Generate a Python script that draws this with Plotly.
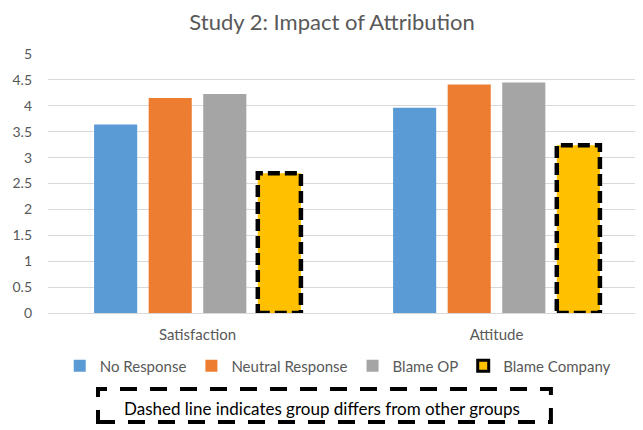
import plotly.graph_objects as go

categories = ["Satisfaction", "Attitude"]
series_names = ["No Response", "Neutral Response", "Blame OP", "Blame Company"]
no_response = [3.64, 3.96]
neutral_response = [4.15, 4.41]
blame_op = [4.23, 4.45]
blame_company = [2.70, 3.24]
y_ticks = [0, 0.5, 1, 1.5, 2, 2.5, 3, 3.5, 4, 4.5, 5]
y_tick_labels = ["0", "0.5", "1", "1.5", "2", "2.5", "3", "3.5", "4", "4.5", "5"]
note_text = "Dashed line indicates group differs from other groups"
title_text = "Study 2: Impact of Attribution"

colors = ["#5b9bd5", "#ed7d31", "#a5a5a5", "#ffc000"]
values = [no_response, neutral_response, blame_op, blame_company]

FONT = "Lato, 'Open Sans', sans-serif"
TXT = "#595959"
BARGAP = 0.27
GROUPGAP = 0.21

fig = go.Figure()
for name, vals, col in zip(series_names, values, colors):
    is_dashed = name == "Blame Company"
    fig.add_trace(go.Bar(
        x=categories, y=vals, name=name,
        marker=dict(color=col, line=dict(width=0)),
        showlegend=not is_dashed,
    ))

# legend-only entry for dashed group
fig.add_trace(go.Scatter(
    x=[None], y=[None], mode="markers", name="Blame Company",
    marker=dict(symbol="square", size=11, color=colors[3],
                line=dict(color="black", width=3)),
))

# dashed outline around the Blame Company bars (derived from data + bar layout)
n = len(series_names)
slot = (1 - BARGAP) / n
idx = series_names.index("Blame Company")
center = -(1 - BARGAP) / 2 + slot * (idx + 0.5)
half = slot * (1 - GROUPGAP) / 2
for cat, v in zip(categories, blame_company):
    fig.add_shape(type="rect", xref="x", yref="y",
                  x0=cat, x1=cat, x0shift=center - half, x1shift=center + half,
                  y0=0, y1=v, line=dict(color="black", width=4.5, dash="12px,5px"),
                  fillcolor="rgba(0,0,0,0)", layer="above")

# note box
fig.add_shape(type="rect", xref="paper", yref="paper",
              x0=0.0836, x1=0.841, y0=-0.421, y1=-0.293,
              line=dict(color="black", width=4, dash="17px,13px"))
fig.add_annotation(xref="paper", yref="paper", x=0.459, y=-0.367,
                   text=note_text, showarrow=False,
                   font=dict(family=FONT, size=17, color="black"),
                   xanchor="center", yanchor="middle")

fig.update_layout(
    width=643, height=430,
    margin=dict(l=40, r=5, t=46, b=125),
    paper_bgcolor="white", plot_bgcolor="white",
    barmode="group", bargap=BARGAP, bargroupgap=GROUPGAP,
    title=dict(text=title_text, x=0.504, xanchor="center", y=0.966, yanchor="middle",
               font=dict(family=FONT, size=22, color=TXT)),
    font=dict(family=FONT, size=14, color=TXT),
    legend=dict(orientation="h", x=0.4845, xanchor="center", y=-0.205, yanchor="middle",
                font=dict(family=FONT, size=15, color=TXT), traceorder="normal",
                itemwidth=30),
    xaxis=dict(showgrid=False, showline=True, linecolor="#d9d9d9", linewidth=1,
               ticks="", tickfont=dict(size=15, color=TXT), ticklabelstandoff=8),
    yaxis=dict(range=[0, 5], tickvals=y_ticks, ticktext=y_tick_labels,
               showgrid=True, gridcolor="#d9d9d9", gridwidth=1, zeroline=False,
               showline=False, ticks="", tickfont=dict(size=14, color=TXT),
               ticklabelstandoff=15),
)

fig.write_html("out.html")
